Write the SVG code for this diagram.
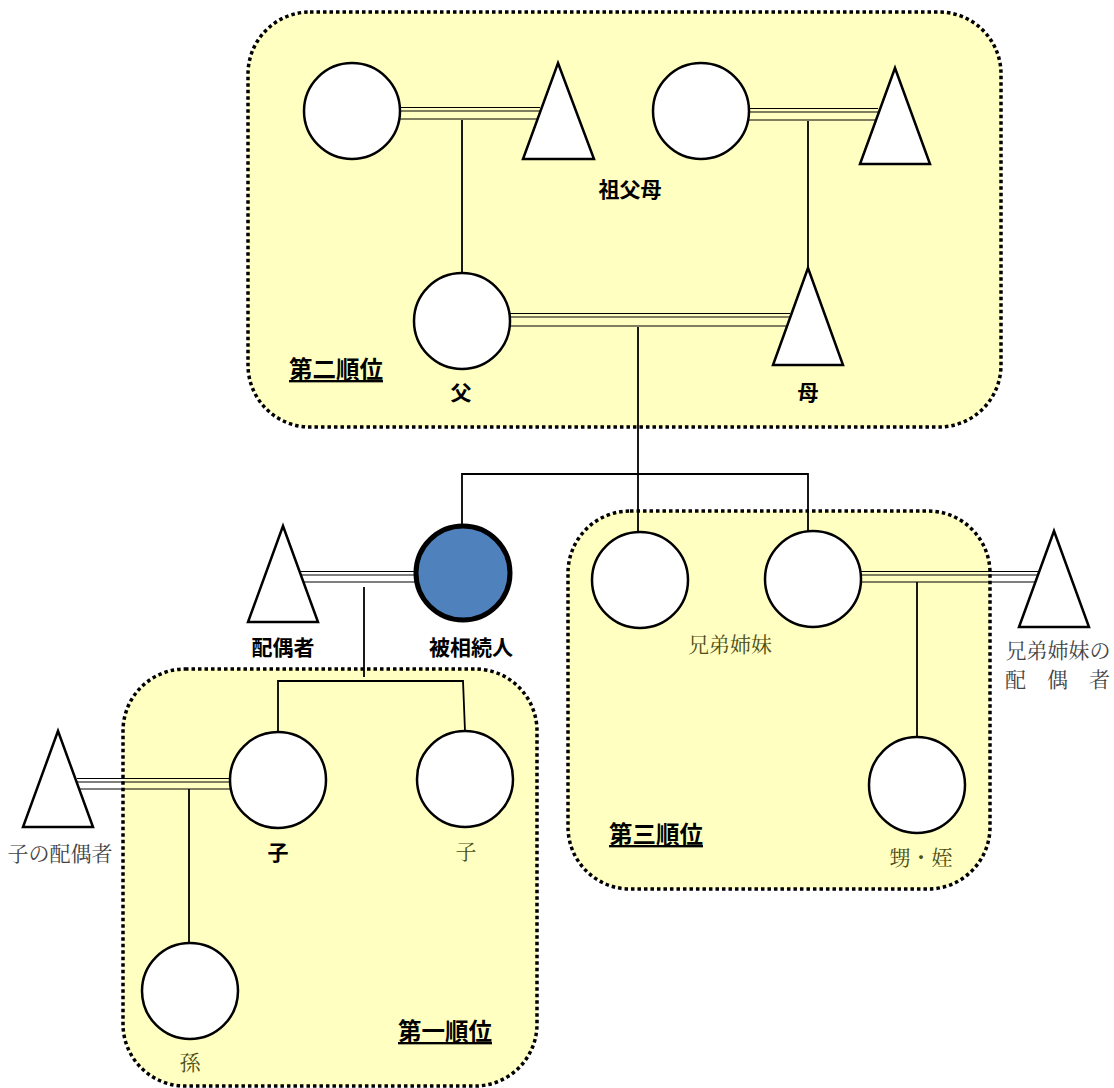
<svg xmlns="http://www.w3.org/2000/svg" width="1114" height="1088" viewBox="0 0 1114 1088">
<style>
.box{fill:#ffffc1;stroke:#000;stroke-width:3.5;stroke-dasharray:3.5 3}
.p{fill:#fff;stroke:#000;stroke-width:2.5}
.ln{stroke:#000;stroke-width:1.8;fill:none}
.d{stroke:#000;stroke-width:1.2;fill:none}
.lb{font-family:"Noto Sans CJK JP","Noto Sans",sans-serif;font-weight:bold;font-size:21px;fill:#000;text-anchor:middle}
.hd{font-family:"Noto Sans CJK JP","Noto Sans",sans-serif;font-weight:bold;font-size:23.5px;fill:#000;text-decoration:underline}
.ol{font-family:"Noto Serif CJK JP","Liberation Serif","Noto Sans CJK JP",serif;font-size:21px;fill:#4d4d14;text-anchor:middle}
.gr{font-family:"Noto Serif CJK JP","Liberation Serif","Noto Sans CJK JP",serif;font-size:21px;fill:#444;text-anchor:middle}
</style>
<rect width="1114" height="1088" fill="#fff"/>
<g id="order2"><rect class="box" x="248" y="12" width="753" height="415" rx="62"/><text class="hd" x="289" y="378">第二順位</text></g>
<g id="order3"><rect class="box" x="568" y="511" width="422" height="378" rx="62"/><text class="hd" x="609" y="843">第三順位</text></g>
<g id="order1"><rect class="box" x="123" y="669" width="414" height="417" rx="62"/><text class="hd" x="398" y="1040">第一順位</text></g>

<g id="connectors">
<g class="d">
<path d="M398 107.5H540M398 111H540M398 119H540"/>
<path d="M749 108.5H878M749 112H878M749 120H878"/>
<path d="M510 313.5H790M510 317H790M510 326H790"/>
<path d="M300 571.5H416M300 575H416M300 582H416"/>
<path d="M77 778.5H231M77 782H231M77 789H231"/>
<path d="M861 571.5H1040M861 575H1040M861 582H1040"/>
</g>
<path class="ln" d="M462 120V273"/>
<path class="ln" d="M808 121V268"/>
<path class="ln" d="M638 327V532"/>
<path class="ln" d="M462 526V474H808V531"/>
<path class="ln" d="M364 587V677"/>
<path class="ln" stroke="#333" d="M278 732V681H463L465 731"/>
<path class="ln" d="M189 789V943"/>
<path class="ln" d="M917 582V737"/>
</g>

<g id="gp1"><circle class="p" cx="352" cy="111" r="48"/></g>
<g id="gp2"><polygon class="p" points="558,63 594,159 523,159"/></g>
<g id="gp3"><circle class="p" cx="701" cy="111" r="48"/></g>
<g id="gp4"><polygon class="p" points="895,68 930,164 860,164"/></g>
<text class="lb" x="630" y="197">祖父母</text>
<g id="father"><circle class="p" cx="462" cy="321" r="48"/><text class="lb" x="461" y="400">父</text></g>
<g id="mother"><polygon class="p" points="808,268 843,365 773,365"/><text class="lb" x="808" y="400">母</text></g>
<g id="decedent"><circle cx="463" cy="573" r="47" fill="#4f81bd" stroke="#000" stroke-width="5"/><text class="lb" x="471" y="655">被相続人</text></g>
<g id="spouse"><polygon class="p" points="283,526 318,622 248,622"/><text class="lb" x="283" y="655">配偶者</text></g>
<g id="sib1"><circle class="p" cx="640" cy="580" r="48"/></g>
<g id="sib2"><circle class="p" cx="813" cy="579" r="48"/></g>
<text class="ol" x="730" y="652">兄弟姉妹</text>
<g id="sibspouse"><polygon class="p" points="1054,531 1089,627 1019,627"/><text class="gr" x="1058" y="658">兄弟姉妹の</text><text class="gr" x="1015.5 1057.5 1099.5" y="687">配偶者</text></g>
<g id="nephew"><circle class="p" cx="917" cy="785" r="48"/><text class="ol" x="921" y="865">甥・姪</text></g>
<g id="child1"><circle class="p" cx="278" cy="780" r="48"/><text class="lb" x="278" y="860">子</text></g>
<g id="child2"><circle class="p" cx="465" cy="779" r="48"/><text class="ol" x="466" y="859">子</text></g>
<g id="childspouse"><polygon class="p" points="58,731 93,827 23,827"/><text class="gr" x="60" y="861">子の配偶者</text></g>
<g id="grandchild"><circle class="p" cx="190" cy="991" r="48"/><text class="ol" x="190" y="1070">孫</text></g>
</svg>
